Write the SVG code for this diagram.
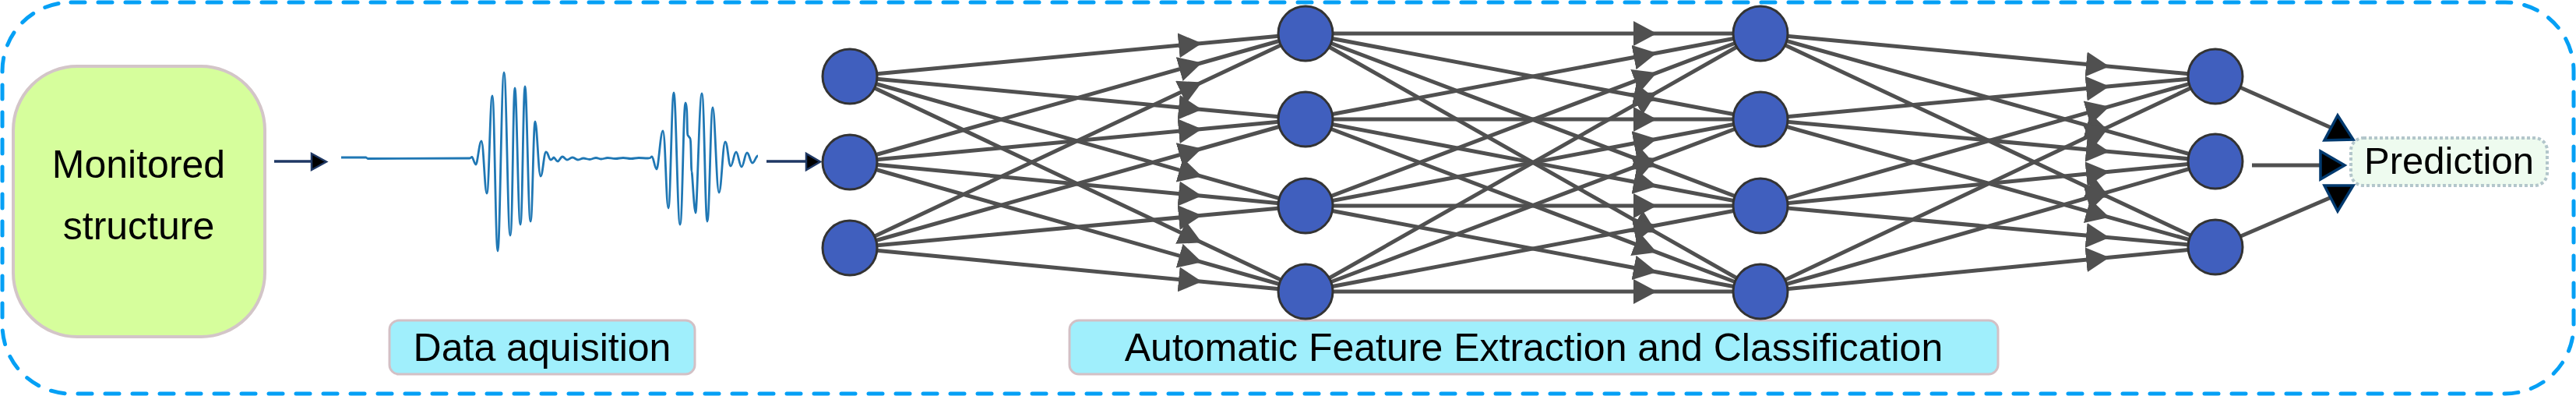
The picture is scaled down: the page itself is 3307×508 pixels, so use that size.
<svg xmlns="http://www.w3.org/2000/svg" width="3307" height="508" viewBox="0 0 3307 508">
<style>
.lbl{font-family:"Liberation Sans",Arial,sans-serif;font-size:50px;fill:#000;text-anchor:middle}
.edge{fill:none;stroke:#505050;stroke-width:5;marker-mid:url(#ah)}
.node{fill:#405FBE;stroke:#333333;stroke-width:3}
.out{fill:none;stroke:#505050;stroke-width:5}
.ohead{fill:#000;stroke:#00396E;stroke-width:3.5;stroke-linejoin:miter}
.cap{fill:#A0EFFC;stroke:#D3C0C5;stroke-width:3}
</style>
<defs>
<marker id="ah" viewBox="0 0 30 32" refX="30" refY="16" markerWidth="30" markerHeight="32" markerUnits="userSpaceOnUse" orient="auto">
<path d="M0,0 L30,16 L0,32 z" fill="#505050"/>
</marker>
</defs>
<rect id="frame" x="3" y="3" width="3301" height="502" rx="88" ry="88" fill="none" stroke="#05A0F5" stroke-width="5" stroke-dasharray="18 17" stroke-linecap="round"/>

<g id="monitored">
<rect x="17" y="85" width="323" height="347" rx="82" ry="82" fill="#D6FE9C" stroke="#D3C5C8" stroke-width="4"/>
<text class="lbl" x="178" y="228">Monitored</text>
<text class="lbl" x="178" y="307">structure</text>
</g>

<g id="signal">
<path d="M438,202 L470,202 L472,203.5 L603,203 C604.2,203 604.8,201.5 606,201.5 S609,211 611,211 S615.2,181 618,181 S622.2,248 625,248 S629.2,123 632,123 S636.2,322 639,322 S643.8,93 647,93 S651.8,302 655,302 S658.6,113 661,113 S665.2,288 668,288 S671.6,111 674,111 S678.2,284 681,284 S684.6,156 687,156 S691.2,226 694,226 S698.2,195 701,195 S704.6,205 707,205 S709.8,202 711,202 S714,207 716,207 S719.6,201 722,201 S725.6,205 728,205 S732.2,202 735,202 S739.2,205 742,205 S746.2,203 749,203 S754,204.5 757,204.5 S762,202.5 765,202.5 S769,204 772,204 S777,202.5 780,202.5 S786,203.5 790,203.5 S796,202.5 800,202.5 S806,203.5 810,203.5 S816,202.5 820,202.5 S827,203 832,203 S835,201 837,201 S840.6,217 843,217 S847.8,168 851,168 S855.2,267 858,267 S862.2,119 865,119 S869.8,288 873,288 S877.2,132 880,132 S881.8,174 883,174 S884.8,177 886,177 S887.2,220 888,220 S891,273 893,273 S897.8,120 901,120 S905.2,284 908,284 S912.2,138 915,138 S919.8,247 923,247 S927.8,182 931,182 S935.2,213 938,213 S942.2,195 945,195 S949.2,214 952,214 S956.2,196 959,196 S963.2,209 966,209 S970.2,200 973,200" fill="none" stroke="#1F77B4" stroke-width="2.8" stroke-linejoin="round"/>
</g>

<g id="data-label">
<rect class="cap" x="500" y="411" width="392" height="69" rx="12" ry="12"/>
<text class="lbl" x="696" y="463">Data aquisition</text>
</g>

<g id="feature-label">
<rect class="cap" x="1373" y="411" width="1192" height="69" rx="12" ry="12"/>
<text class="lbl" x="1969" y="463">Automatic Feature Extraction and Classification</text>
</g>

<g id="prediction">
<rect x="3018" y="177" width="252" height="61" rx="16" ry="16" fill="#EEFBEF" stroke="#B3C6CB" stroke-width="4" stroke-dasharray="4 3"/>
<text class="lbl" x="3144" y="223" style="font-size:49px">Prediction</text>
</g>

<g id="connectors">
<line x1="352" y1="207" x2="402" y2="207" stroke="#1F3864" stroke-width="3.5"/>
<polygon points="400,197 400,218 419,207.5" fill="#000" stroke="#1F3864" stroke-width="2.5"/>
<line x1="984" y1="207" x2="1037" y2="207" stroke="#1F3864" stroke-width="3.5"/>
<polygon points="1035,197 1035,218 1053,207.5" fill="#000" stroke="#1F3864" stroke-width="2.5"/>

<path class="edge" d="M1091,98 L1543,55.5 L1676,43"/>
<path class="edge" d="M1091,98 L1543,140.5 L1676,153"/>
<path class="edge" d="M1091,98 L1543,226.3 L1676,264"/>
<path class="edge" d="M1091,98 L1543,311.2 L1676,374"/>
<path class="edge" d="M1091,208 L1543,80.5 L1676,43"/>
<path class="edge" d="M1091,208 L1543,165.5 L1676,153"/>
<path class="edge" d="M1091,208 L1543,251.3 L1676,264"/>
<path class="edge" d="M1091,208 L1543,336.3 L1676,374"/>
<path class="edge" d="M1091,318 L1543,105.5 L1676,43"/>
<path class="edge" d="M1091,318 L1543,190.5 L1676,153"/>
<path class="edge" d="M1091,318 L1543,276.3 L1676,264"/>
<path class="edge" d="M1091,318 L1543,361.3 L1676,374"/>

<path class="edge" d="M1676,43 L2127,43 L2260,43"/>
<path class="edge" d="M1676,43 L2127,128 L2260,153"/>
<path class="edge" d="M1676,43 L2127,213.7 L2260,264"/>
<path class="edge" d="M1676,43 L2127,298.6 L2260,374"/>
<path class="edge" d="M1676,153 L2127,68 L2260,43"/>
<path class="edge" d="M1676,153 L2127,153 L2260,153"/>
<path class="edge" d="M1676,153 L2127,238.7 L2260,264"/>
<path class="edge" d="M1676,153 L2127,323.7 L2260,374"/>
<path class="edge" d="M1676,264 L2127,93.3 L2260,43"/>
<path class="edge" d="M1676,264 L2127,178.3 L2260,153"/>
<path class="edge" d="M1676,264 L2127,264 L2260,264"/>
<path class="edge" d="M1676,264 L2127,349 L2260,374"/>
<path class="edge" d="M1676,374 L2127,118.4 L2260,43"/>
<path class="edge" d="M1676,374 L2127,203.3 L2260,153"/>
<path class="edge" d="M1676,374 L2127,289 L2260,264"/>
<path class="edge" d="M1676,374 L2127,374 L2260,374"/>

<path class="edge" d="M2260,43 L2708,85.2 L2844,98"/>
<path class="edge" d="M2260,43 L2708,168.8 L2844,207"/>
<path class="edge" d="M2260,43 L2708,253.2 L2844,317"/>
<path class="edge" d="M2260,153 L2708,110.8 L2844,98"/>
<path class="edge" d="M2260,153 L2708,194.4 L2844,207"/>
<path class="edge" d="M2260,153 L2708,278.8 L2844,317"/>
<path class="edge" d="M2260,264 L2708,136.7 L2844,98"/>
<path class="edge" d="M2260,264 L2708,220.3 L2844,207"/>
<path class="edge" d="M2260,264 L2708,304.7 L2844,317"/>
<path class="edge" d="M2260,374 L2708,162.3 L2844,98"/>
<path class="edge" d="M2260,374 L2708,245.9 L2844,207"/>
<path class="edge" d="M2260,374 L2708,330.3 L2844,317"/>

<line class="out" x1="2844" y1="98" x2="2993" y2="164"/>
<line class="out" x1="2891" y1="212" x2="2980" y2="212"/>
<line class="out" x1="2844" y1="317" x2="2993" y2="253"/>
<polygon class="ohead" points="3001,148 2984,180 3021,179"/>
<polygon class="ohead" points="2979,194 2979,230 3010,212"/>
<polygon class="ohead" points="2984,238 3021,238 3001,271"/>
</g>

<g id="layer1">
<ellipse class="node" cx="1091" cy="98" rx="35" ry="35"/>
<ellipse class="node" cx="1091" cy="208" rx="35" ry="35"/>
<ellipse class="node" cx="1091" cy="318" rx="35" ry="35"/>
</g>
<g id="layer2">
<ellipse class="node" cx="1676" cy="43" rx="35" ry="35"/>
<ellipse class="node" cx="1676" cy="153" rx="35" ry="35"/>
<ellipse class="node" cx="1676" cy="264" rx="35" ry="35"/>
<ellipse class="node" cx="1676" cy="374" rx="35" ry="35"/>
</g>
<g id="layer3">
<ellipse class="node" cx="2260" cy="43" rx="35" ry="35"/>
<ellipse class="node" cx="2260" cy="153" rx="35" ry="35"/>
<ellipse class="node" cx="2260" cy="264" rx="35" ry="35"/>
<ellipse class="node" cx="2260" cy="374" rx="35" ry="35"/>
</g>
<g id="layer4">
<ellipse class="node" cx="2844" cy="98" rx="35" ry="35"/>
<ellipse class="node" cx="2844" cy="207" rx="35" ry="35"/>
<ellipse class="node" cx="2844" cy="317" rx="35" ry="35"/>
</g>
</svg>
